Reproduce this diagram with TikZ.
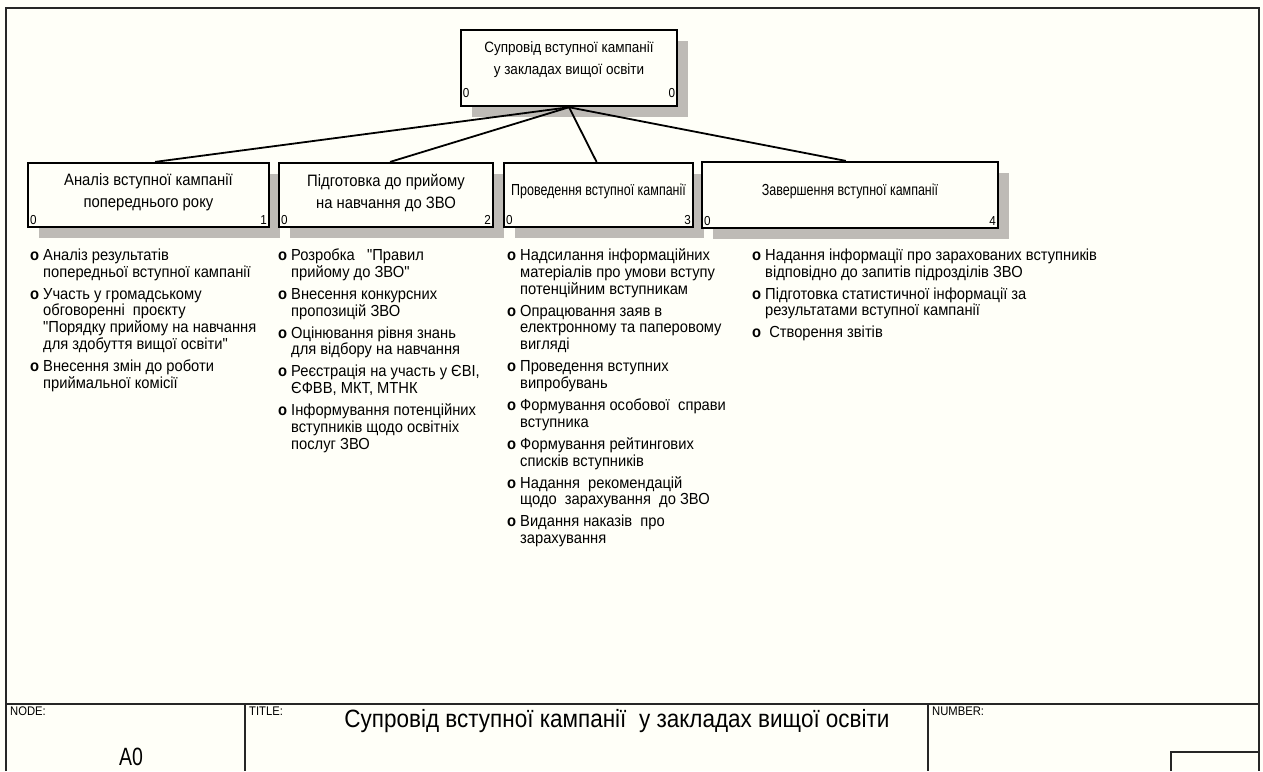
\documentclass[tikz,border=0pt]{standalone}
\usepackage{fontspec}
\setmainfont{Liberation Sans}
\newfontfamily\condA[FakeStretch=0.9]{Liberation Sans}
\newfontfamily\condB[FakeStretch=0.78]{Liberation Sans}
\newfontfamily\condL[FakeStretch=0.92]{Liberation Sans}
\usetikzlibrary{shadows,calc}
\definecolor{bgc}{RGB}{255,255,248}
\definecolor{shc}{RGB}{190,187,182}
\newcommand\bult{\textbf{o}}
\begin{document}
\begin{tikzpicture}[x=1pt,y=-1pt,
  box/.style={draw=black, line width=2.2pt, fill=bgc, align=center, inner sep=0pt,
    font=\condA\fontsize{16.5}{22}\selectfont,
    drop shadow={shadow xshift=11pt, shadow yshift=-11pt, fill=shc, opacity=1}},
  num/.style={font=\condA\fontsize{13}{14}\selectfont, inner sep=3pt},
  conn/.style={draw=black, line width=1.8pt},
  lst/.style={anchor=north west, inner sep=0pt, font=\condL\fontsize{16}{16.8}\selectfont},
  frm/.style={draw=black!85, line width=1.6pt},
  small/.style={font=\condA\fontsize{12.5}{14}\selectfont, anchor=north west, inner sep=0pt}]
\fill[bgc] (0,0) rectangle (1263,771);
\useasboundingbox (0,0) rectangle (1263,771);

% frame and title block
\draw[frm] (6,771) -- (6,8) -- (1259,8) -- (1259,771);
\draw[frm] (6,704) -- (1259,704);
\draw[frm] (245,704) -- (245,771);
\draw[frm] (928,704) -- (928,771);
\draw[frm] (1171,771) -- (1171,752) -- (1259,752);
\node[small] (nodel) at (10,707) {NODE:};
\node[small] (titlel) at (249,707) {TITLE:};
\node[small] (numl) at (932,707) {NUMBER:};
\node[font=\condB\fontsize{25}{28}\selectfont] (a0) at (131,757) {A0};
\node[font=\condA\fontsize{25}{28}\selectfont] (title) at (617,721) {Супровід вступної кампанії\ \ у закладах вищої освіти};

% top box
\node[box, line width=2.5pt, minimum width=216pt, minimum height=76pt, font=\condA\fontsize{15}{22}\selectfont,
  label={[num, anchor=south west, yshift=6pt]south west:0},
  label={[num, anchor=south east, yshift=6pt]south east:0}] (top) at (569,68)
  {Супровід вступної кампанії\\у закладах вищої освіти\rule[-19pt]{0pt}{0pt}};

% child boxes
\node[box, minimum width=241pt, minimum height=64pt,
  label={[num, anchor=south west]south west:0},
  label={[num, anchor=south east]south east:1}] (b1) at (148.5,195)
  {Аналіз вступної кампанії\\попереднього року\rule[-8pt]{0pt}{0pt}};
\node[box, minimum width=214pt, minimum height=64pt,
  label={[num, anchor=south west]south west:0},
  label={[num, anchor=south east]south east:2}] (b2) at (386,195)
  {Підготовка до прийому\\на навчання до ЗВО\rule[-8pt]{0pt}{0pt}};
\node[box, minimum width=189pt, minimum height=64pt, font=\condB\fontsize{16}{22}\selectfont,
  label={[num, anchor=south west]south west:0},
  label={[num, anchor=south east]south east:3}] (b3) at (598.5,195)
  {Проведення вступної кампанії\rule[-10pt]{0pt}{0pt}};
\node[box, minimum width=296pt, minimum height=66pt, font=\condB\fontsize{16}{22}\selectfont,
  label={[num, anchor=south west]south west:0},
  label={[num, anchor=south east]south east:4}] (b4) at (850,195)
  {Завершення вступної кампанії\rule[-10pt]{0pt}{0pt}};

% connectors
\draw[conn] (top.south) -- ($(b1.north west)!0.527!(b1.north east)$);
\draw[conn] (top.south) -- ($(b2.north west)!0.519!(b2.north east)$);
\draw[conn] (top.south) -- ($(b3.north west)!0.49!(b3.north east)$);
\draw[conn] (top.south) -- ($(b4.north west)!0.486!(b4.north east)$);

% lists
\node[lst] (l1) at (30,248.5) {\begin{tabular}{@{}l@{\hspace{4pt}}l@{}}
\bult & Аналіз результатів\\
 & попередньої вступної кампанії\\[5.1pt]
\bult & Участь у громадському\\
 & обговоренні\ \ проєкту\\
 & "Порядку прийому на навчання\\
 & для здобуття вищої освіти"\\[5.1pt]
\bult & Внесення змін до роботи\\
 & приймальної комісії
\end{tabular}};
\node[lst] (l2) at (278,248.5) {\begin{tabular}{@{}l@{\hspace{4pt}}l@{}}
\bult & Розробка\ \ \ "Правил\\
 & прийому до ЗВО"\\[5.1pt]
\bult & Внесення конкурсних\\
 & пропозицій ЗВО\\[5.1pt]
\bult & Оцінювання рівня знань\\
 & для відбору на навчання\\[5.1pt]
\bult & Реєстрація на участь у ЄВІ,\\
 & ЄФВВ, МКТ, МТНК\\[5.1pt]
\bult & Інформування потенційних\\
 & вступників щодо освітніх\\
 & послуг ЗВО
\end{tabular}};
\node[lst] (l3) at (507,248.5) {\begin{tabular}{@{}l@{\hspace{4pt}}l@{}}
\bult & Надсилання інформаційних\\
 & матеріалів про умови вступу\\
 & потенційним вступникам\\[5.1pt]
\bult & Опрацювання заяв в\\
 & електронному та паперовому\\
 & вигляді\\[5.1pt]
\bult & Проведення вступних\\
 & випробувань\\[5.1pt]
\bult & Формування особової\ \ справи\\
 & вступника\\[5.1pt]
\bult & Формування рейтингових\\
 & списків вступників\\[5.1pt]
\bult & Надання\ \ рекомендацій\\
 & щодо\ \ зарахування\ \ до ЗВО\\[5.1pt]
\bult & Видання наказів\ \ про\\
 & зарахування
\end{tabular}};
\node[lst] (l4) at (752,248.5) {\begin{tabular}{@{}l@{\hspace{4pt}}l@{}}
\bult & Надання інформації про зарахованих вступників\\
 & відповідно до запитів підрозділів ЗВО\\[5.1pt]
\bult & Підготовка статистичної інформації за\\
 & результатами вступної кампанії\\[5.1pt]
\bult & \ Створення звітів
\end{tabular}};
\end{tikzpicture}
\end{document}
